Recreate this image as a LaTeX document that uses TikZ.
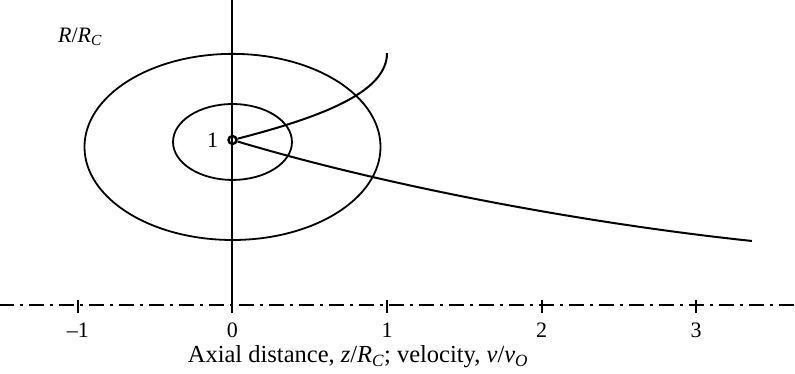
\documentclass[tikz,border=0pt]{standalone}
\usepackage{amsmath}
\usepackage{fontspec}
\setmainfont{Liberation Serif}
\usetikzlibrary{positioning}
\tikzset{
  ring/.style={draw, line width=1.8pt},
  curve/.style={draw, line width=2pt},
  axisdash/.style={line width=2.6pt, dash pattern=on 15pt off 6pt on 3pt off 6pt},
  tickmark/.style={line width=2pt},
  ticklabel/.style={font=\fontsize{22}{26}\selectfont, inner sep=1pt},
  core/.style={circle, draw, line width=2.4pt, minimum size=8pt, inner sep=0pt},
  axtitle/.style={font=\fontsize{24.5}{28}\selectfont, inner sep=1pt}
}
\begin{document}
\begin{tikzpicture}[x=154.5pt, y=165pt]
  \useasboundingbox (-232.5pt,-69pt) rectangle (562.5pt,305pt);
  % axis of symmetry and radial axis
  \draw[axisdash] (-1.51,0) -- (3.65,0);
  \draw[tickmark] (0,-0.05) -- (0,1.85);
  \foreach \z/\lab in {-1/\textendash1, 0/0, 1/1, 2/2, 3/3} {
    \draw[tickmark] (\z,-0.05) -- (\z,0.03);
    \node[ticklabel] (t\z) at (\z,-0.155) {\lab};
  }
  \node[axtitle] (ztitle) at (0.812,-0.315)
    {Axial distance, \textit{z}/\textit{R}$_{\textit{C}}$; velocity, \textit{v}/\textit{v}$_{\textit{O}}$};
  \node[ticklabel] (rtitle) at (-0.987,1.624) {\textit{R}/\textit{R}$_{\textit{C}}$};
  % rings and core
  \draw[ring] (0,0.988) ellipse [x radius=0.385, y radius=0.23];
  \draw[ring] (0,0.958) ellipse [x radius=0.958, y radius=0.564];
  \node[core] (c) at (0,1) {};
  \node[ticklabel, left=8pt of c] (one) {1};
  % trajectories
  \draw[curve] (c) .. controls (0.631,1.152) and (1.0,1.303) .. (1.0,1.527);
  \draw[curve] (c) .. controls (1.084,0.697) and (2.379,0.485) .. (3.362,0.388);
\end{tikzpicture}
\end{document}
